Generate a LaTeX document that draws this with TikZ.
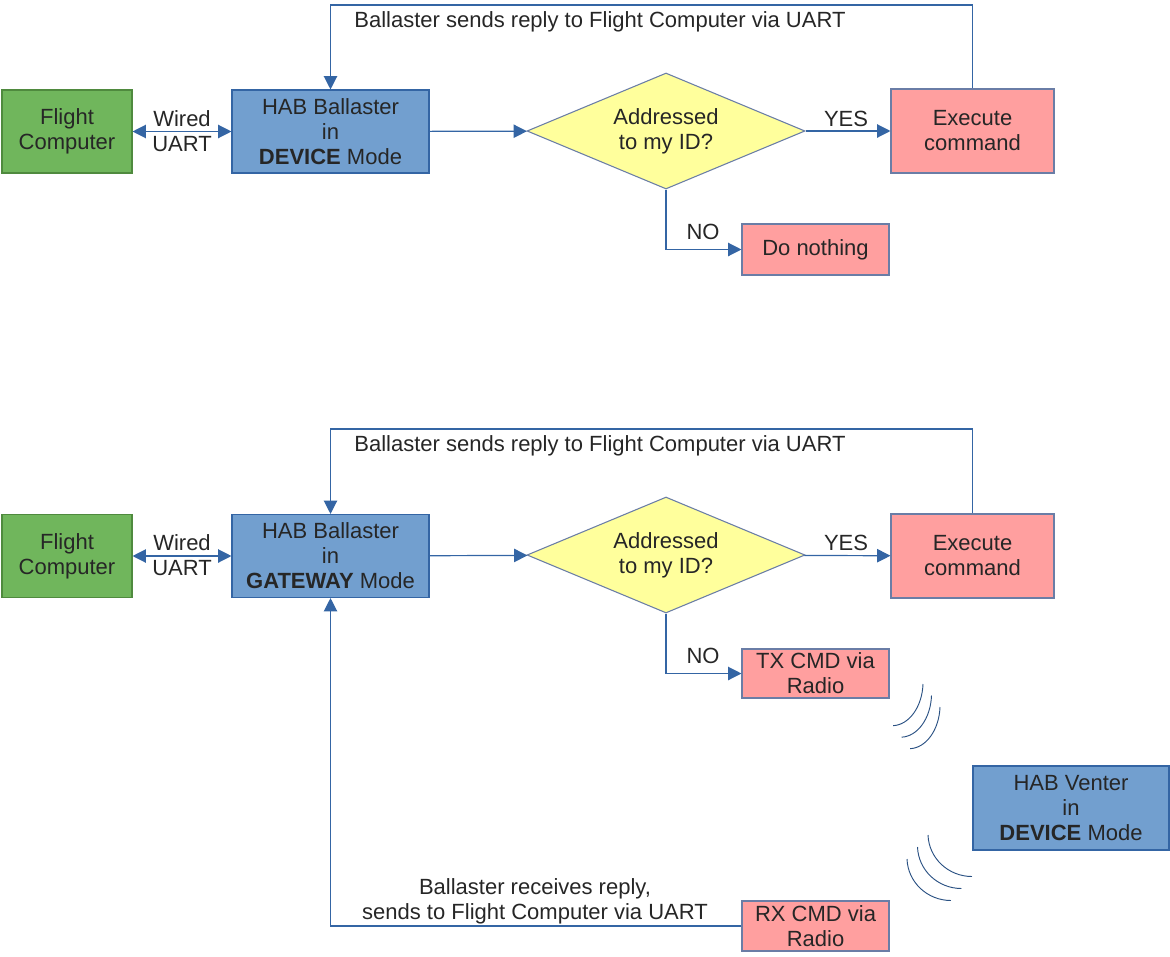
\documentclass[tikz,border=0pt]{standalone}
\usepackage{fontspec}
\setmainfont{Liberation Sans}
\usetikzlibrary{shapes.geometric, arrows.meta, calc}
\definecolor{fcgreen}{HTML}{70B65C}
\definecolor{fcgreenline}{HTML}{4F8A3E}
\definecolor{habblue}{HTML}{729FCF}
\definecolor{lineblue}{HTML}{3465A4}
\definecolor{cmdpink}{HTML}{FF9F9F}
\definecolor{cmdline}{HTML}{6A7DA6}
\definecolor{askyellow}{HTML}{FFFF9C}

\begin{document}
\begin{tikzpicture}[x=0.75pt, y=-0.75pt,
  every node/.style={font=\fontsize{16.5}{18.75}\selectfont, text=black!85},
  box/.style={draw, rectangle, align=center, line width=0.8pt, inner sep=0pt},
  fcbox/.style={box, fill=fcgreen, draw=fcgreenline, minimum width=97.5pt, minimum height=62.25pt},
  habbox/.style={box, fill=habblue, draw=lineblue, minimum width=147.75pt, minimum height=62.25pt},
  cmdbox/.style={box, fill=cmdpink, draw=cmdline},
  decision/.style={draw=cmdline, fill=askyellow, diamond, align=center, line width=0.8pt,
    inner sep=0pt, aspect=2.4, minimum width=208.5pt, minimum height=87pt},
  flow/.style={draw=lineblue, line width=0.9pt, -{Triangle[length=10pt,width=10pt]}},
  both/.style={{Triangle[length=10pt,width=10pt]}-{Triangle[length=10pt,width=10pt]}},
  wave/.style={draw=lineblue!80!black, line width=0.7pt}
]
\useasboundingbox (0,0) rectangle (1170,956);

% Upper chart: Ballaster in DEVICE mode
\node[fcbox] (fc1) at (67,131.5) {Flight\\Computer};
\node[habbox] (bal1) at (330.5,131.5) {HAB Ballaster\\in\\\textbf{DEVICE} Mode};
\node[decision] (dec1) at (666,131) {Addressed\\to my ID?};
\node[cmdbox, minimum width=122.25pt, minimum height=63pt] (exec1) at (972.5,131) {Execute\\command};
\node[cmdbox, minimum width=110.25pt, minimum height=38.25pt] (none1) at (815.5,249.5) {Do nothing};
\coordinate (top1) at (973,5);

\draw[flow, both] (fc1) -- (bal1);
\node[align=center] (wired1) at (182,131) {Wired\\UART};
\draw[flow] (bal1) -- (dec1);
\draw[flow] (dec1) -- (exec1);
\node (yes1) at (846,119) {YES};
\draw[flow] (dec1.south) |- (none1.west);
\node (no1) at (703,232) {NO};
\draw[flow] (exec1.north) -- (exec1.north |- top1) -| (bal1.north);
\node (reply1) at (600,22) {Ballaster sends reply to Flight Computer via UART};

% Lower chart: Ballaster in GATEWAY mode
\node[fcbox] (fc2) at (67,556) {Flight\\Computer};
\node[habbox] (bal2) at (330.5,556) {HAB Ballaster\\in\\\textbf{GATEWAY} Mode};
\node[decision] (dec2) at (666,555) {Addressed\\to my ID?};
\node[cmdbox, minimum width=122.25pt, minimum height=63pt] (exec2) at (972.5,556) {Execute\\command};
\node[cmdbox, minimum width=110.25pt, minimum height=36.75pt] (tx2) at (815.5,673.5) {TX CMD via\\Radio};
\node[habbox, minimum width=147pt, minimum height=63pt] (venter) at (1071,808) {HAB Venter\\in\\\textbf{DEVICE} Mode};
\node[cmdbox, minimum width=110.25pt, minimum height=37.5pt] (rx2) at (815.5,926) {RX CMD via\\Radio};
\coordinate (top2) at (973,429);

\draw[flow, both] (fc2) -- (bal2);
\node[align=center] (wired2) at (182,555) {Wired\\UART};
\draw[flow] (bal2) -- (dec2);
\draw[flow] (dec2) -- (exec2);
\node (yes2) at (846,543) {YES};
\draw[flow] (dec2.south) |- (tx2.west);
\node (no2) at (703,656) {NO};
\draw[flow] (exec2.north) -- (exec2.north |- top2) -| (bal2.north);
\node (reply2) at (600,446) {Ballaster sends reply to Flight Computer via UART};
\draw[flow] (rx2.west) -| (bal2.south);
\node[align=center, text depth=0pt] (reply3) at (535,899) {Ballaster receives reply,\\sends to Flight Computer via UART};

% Radio waves
\foreach \i in {0,1,2}
  \draw[wave] ($(923,684)+(8.5*\i,11.5*\i)$) arc[start angle=3, end angle=88, x radius=31, y radius=44];
\foreach \i in {0,1,2}
  \draw[wave] ($(928,835)+(-10.5*\i,12*\i)$) arc[start angle=178, end angle=90, x radius=44, y radius=43];

\end{tikzpicture}
\end{document}
